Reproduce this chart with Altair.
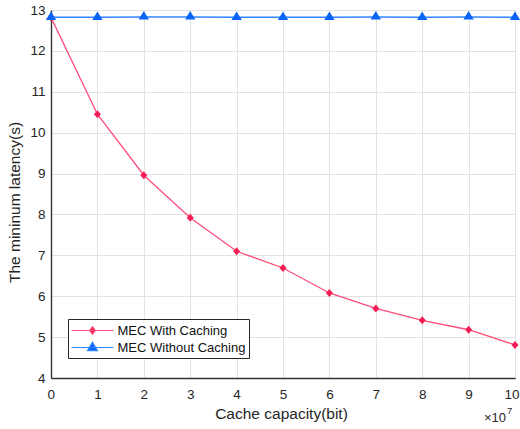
import altair as alt
import pandas as pd

# ---- data ----
capacity = [0, 1, 2, 3, 4, 5, 6, 7, 8, 9, 10]
with_caching = [12.82, 10.45, 8.96, 7.92, 7.10, 6.69, 6.08, 5.70, 5.41, 5.18, 4.81]
without_caching = [12.82, 12.82, 12.83, 12.83, 12.82, 12.82, 12.82, 12.83, 12.82, 12.83, 12.82]
series_names = ["MEC With Caching", "MEC Without Caching"]
x_ticks = [0, 1, 2, 3, 4, 5, 6, 7, 8, 9, 10]
y_ticks = [4, 5, 6, 7, 8, 9, 10, 11, 12, 13]
x_title = "Cache capacity(bit)"
y_title = "The mininum latency(s)"
exp_base = ["×10"]
exp_power = ["7"]

rows = []
for c, a, b in zip(capacity, with_caching, without_caching):
    rows.append({"capacity": c, "latency": a, "series": series_names[0]})
    rows.append({"capacity": c, "latency": b, "series": series_names[1]})
df = pd.DataFrame(rows)
exp_df = pd.DataFrame({"capacity": [x_ticks[-1]], "latency": [y_ticks[0]],
                       "base": exp_base, "power": exp_power})

RED_LINE = "#ff4d7a"
RED_MARK = "#f51d55"
BLUE_LINE = "#2f86ff"
BLUE_MARK = "#0a64f5"
TXT = "#262626"
FONT = "Liberation Sans"

x_enc = alt.X("capacity:Q", scale=alt.Scale(domain=[0, 10], nice=False, zero=False),
              axis=alt.Axis(values=x_ticks, title=x_title, grid=True, ticks=False,
                            labelFlush=True, labelFlushOffset=4,
                            labelPadding=20, labelBaseline="alphabetic",
                            titleX=230, titleY=40, titleBaseline="alphabetic",
                            titleFontSize=15.5, format="d"))
y_enc = alt.Y("latency:Q", scale=alt.Scale(domain=[4, 13], nice=False, zero=False),
              axis=alt.Axis(values=y_ticks, title=y_title, grid=True, ticks=False,
                            labelFlush=False, labelPadding=6,
                            titleX=-32, titleY=192, titleBaseline="alphabetic",
                            titleFontSize=15.5, format="d"))

base = alt.Chart(df).encode(x=x_enc, y=y_enc)

red = base.transform_filter(alt.datum.series == series_names[0])
blue = base.transform_filter(alt.datum.series == series_names[1])

red_line = red.mark_line(color=RED_LINE, strokeWidth=1.3)
red_pts = red.mark_point(shape="M0,-1L0.875,0L0,1L-0.875,0Z", filled=True, size=64,
                         color=RED_MARK, opacity=1)
blue_line = blue.mark_line(color=BLUE_LINE, strokeWidth=1.5)
blue_pts = blue.mark_point(shape="M0,-1.15L1,0.5L-1,0.5Z", filled=True, size=108,
                           color=BLUE_MARK, opacity=1)

leg = alt.Legend(orient="none", legendX=17, legendY=309, title=None,
                 symbolSize=196, symbolStrokeWidth=1.2, symbolOpacity=1,
                 labelFont=FONT, labelFontSize=13, labelColor="#111111",
                 labelOffset=30, padding=3.5, rowPadding=2,
                 strokeColor=TXT, fillColor="white")
leg_diamond = "M-1.143,0H4.857M1.857,-0.55L2.27,0L1.857,0.55L1.444,0Z"
leg_triangle = "M-1.143,0H4.857M1.857,-0.75L2.57,0.45L1.144,0.45Z"
legend_layer = alt.Chart(df).transform_filter("false").mark_point(
    filled=True, opacity=1, strokeWidth=1.2).encode(
    color=alt.Color("series:N", scale=alt.Scale(domain=series_names, range=[RED_MARK, BLUE_MARK]), legend=leg),
    stroke=alt.Stroke("series:N", scale=alt.Scale(domain=series_names, range=[RED_LINE, BLUE_LINE]), legend=leg),
    shape=alt.Shape("series:N", scale=alt.Scale(domain=series_names, range=[leg_diamond, leg_triangle]), legend=leg),
)

exp_base_txt = alt.Chart(exp_df).mark_text(align="right", baseline="alphabetic", dx=-9, dy=44,
                                           font=FONT, fontSize=13, color=TXT).encode(
    x=alt.X("capacity:Q"), y=alt.Y("latency:Q"), text="base:N")
exp_pow_txt = alt.Chart(exp_df).mark_text(align="left", baseline="alphabetic", dx=-8, dy=36,
                                          font=FONT, fontSize=9.5, color=TXT).encode(
    x=alt.X("capacity:Q"), y=alt.Y("latency:Q"), text="power:N")

chart = alt.layer(red_line, blue_line, red_pts, blue_pts, legend_layer, exp_base_txt, exp_pow_txt).properties(
    width=464, height=368,
    padding={"left": 51, "top": 10, "right": 5, "bottom": 51},
    autosize=alt.AutoSizeParams(type="none"),
    background="white",
).configure_axis(
    labelFont=FONT, titleFont=FONT, labelFontSize=13.5, labelColor=TXT, titleColor=TXT,
    titleFontWeight="normal", gridColor="#e2e2e2", gridWidth=1,
    domainColor="#333333", domainWidth=1.4,
).configure_view(stroke="#555555", strokeWidth=1)

chart.save("out.html", embed_options={"renderer": "svg", "actions": False})
